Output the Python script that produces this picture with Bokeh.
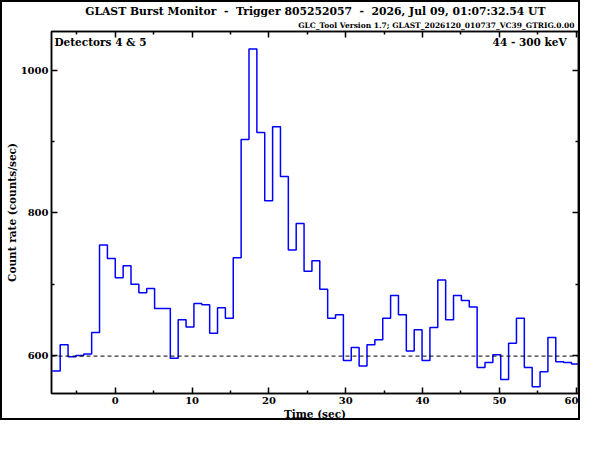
import numpy as np
from bokeh.plotting import figure
from bokeh.models import Range1d, LinearAxis, FixedTicker, Span, Label, Title
from bokeh.embed import file_html
from bokeh.resources import INLINE

# ---- data -------------------------------------------------------------
BIN_START = -8.192      # s, left edge of first 1.024 s bin
BIN_WIDTH = 1.024       # s
rates = [578, 615, 598, 600, 602, 632, 755, 736, 709, 726,
         700, 688, 694, 666, 666, 596, 650, 640, 673, 671,
         631, 667, 652, 737, 903, 1030, 913, 817, 921, 851,
         748, 785, 718, 733, 693, 652, 657, 593, 611, 585,
         615, 622, 652, 684, 657, 606, 636, 593, 639, 706,
         650, 684, 677, 668, 583, 590, 601, 566, 617, 652,
         583, 556, 577, 625, 591, 590, 588]
BACKGROUND = 599
X_MAJOR = [0, 10, 20, 30, 40, 50, 60]
X_MINOR = [-5, 5, 15, 25, 35, 45, 55]
Y_MAJOR = [600, 800, 1000]
Y_MINOR = [700, 900]
TITLE = ("GLAST Burst Monitor\u00a0\u00a0-\u00a0\u00a0Trigger 805252057"
         "\u00a0\u00a0-\u00a0\u00a02026, Jul 09, 01:07:32.54 UT")
VERSION = "GLC_Tool Version 1.7; GLAST_2026120_010737_VC39_GTRIG.0.00"
DETECTORS = "Detectors 4 & 5"
ENERGY = "44 - 300 keV"
X_LABEL = "Time (sec)"
Y_LABEL = "Count rate (counts/sec)"

# ---- layout -----------------------------------------------------------
XMIN, XMAX = -8.3, 60.3
YMIN, YMAX = 546.5, 1054.7
W, H = 580, 420
BL, BR, BT, BB = 46, 4, 29, 29
FW = W - BL - BR
FH = H - BT - BB
FONT = "DejaVu Serif"


def xd(px):
    return XMIN + (px - BL) / FW * (XMAX - XMIN)


def yd(py):
    return YMAX - (py - BT) / FH * (YMAX - YMIN)


p = figure(width=W, height=H, output_backend="svg", toolbar_location=None,
           x_range=Range1d(XMIN, XMAX), y_range=Range1d(YMIN, YMAX),
           min_border_left=BL, min_border_right=BR,
           min_border_top=BT, min_border_bottom=BB,
           x_axis_type=None, y_axis_type=None)
p.grid.visible = False
p.background_fill_color = "white"
p.border_fill_color = "white"
p.outline_line_color = "black"
p.outline_line_width = 1.5
p.styles = {"border": "2px solid black"}

xt = FixedTicker(ticks=X_MAJOR, minor_ticks=X_MINOR)
yt = FixedTicker(ticks=Y_MAJOR, minor_ticks=Y_MINOR)


def style_axis(ax, labels=True):
    ax.axis_line_color = "black"
    ax.axis_line_width = 1.5
    ax.major_tick_in = 6
    ax.major_tick_out = 0
    ax.minor_tick_in = 3
    ax.minor_tick_out = 0
    ax.major_tick_line_width = 1.5
    ax.minor_tick_line_width = 1.5
    ax.major_tick_line_color = "black"
    ax.minor_tick_line_color = "black"
    ax.axis_label_text_font = FONT
    ax.axis_label_text_font_style = "bold"
    ax.axis_label_text_font_size = "10.5px"
    ax.axis_label_text_color = "black"
    if labels:
        ax.major_label_text_font = FONT
        ax.major_label_text_font_style = "bold"
        ax.major_label_text_font_size = "10px"
        ax.major_label_text_color = "black"
        ax.major_label_standoff = 3
    else:
        ax.major_label_text_font_size = "0px"
        ax.major_label_standoff = 0
        ax.major_label_text_color = None


bottom = LinearAxis(ticker=xt, axis_label=X_LABEL, axis_label_standoff=1)
style_axis(bottom)
top = LinearAxis(ticker=xt)
style_axis(top, labels=False)
left = LinearAxis(ticker=yt, axis_label=Y_LABEL, axis_label_standoff=0)
style_axis(left)
right = LinearAxis(ticker=yt)
style_axis(right, labels=False)
p.add_layout(bottom, "below")
p.add_layout(top, "above")
p.add_layout(left, "left")
p.add_layout(right, "right")

p.add_layout(Title(text=VERSION, align="right", text_font=FONT,
                   text_font_style="bold", text_font_size="7.5px",
                   text_color="black", standoff=3, offset=4), "above")
p.add_layout(Title(text=TITLE, align="right", text_font=FONT,
                   text_font_style="bold", text_font_size="10.8px",
                   text_color="black", standoff=0, offset=33), "above")

# background level
p.add_layout(Span(location=BACKGROUND, dimension="width", line_color="black",
                  line_width=1, line_dash="4 3"))

# light curve
edges = BIN_START + BIN_WIDTH * np.arange(len(rates) + 1)
p.step(edges, rates + [rates[-1]], mode="after", line_color="#0000ff",
       line_width=1.5)

# texts inside the frame
def lab(text, px, py, align):
    p.add_layout(Label(x=xd(px), y=yd(py), text=text, text_align=align,
                       text_baseline="middle", text_font=FONT,
                       text_font_style="bold", text_font_size="10.5px",
                       text_color="black"))


lab(DETECTORS, 49, 39, "left")
lab(ENERGY, W - BR - 12, 39, "right")

open("out.html", "w").write(file_html(p, INLINE))
